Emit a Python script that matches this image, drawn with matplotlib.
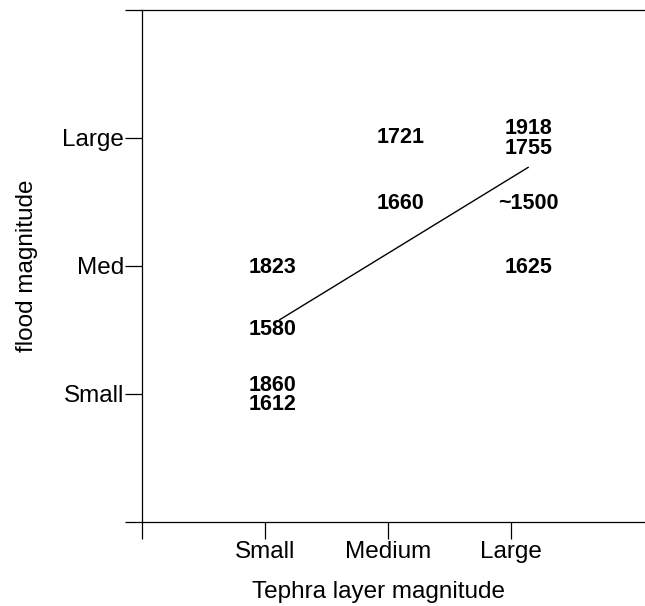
import numpy as np
import matplotlib
matplotlib.use("Agg")
from matplotlib import pyplot as plt

plt.rcParams['font.family'] = ['Liberation Sans', 'DejaVu Sans']

# tephra categories (x) and flood categories (y)
x_labels = ["Small", "Medium", "Large"]
y_labels = ["Small", "Med", "Large"]

# event years placed in the tephra / flood grid
years = ["1918", "1755", "1721", "1660", "~1500", "1823", "1625", "1580", "1860", "1612"]
year_x = [3.14, 3.14, 2.10, 2.10, 3.14, 1.06, 3.14, 1.06, 1.06, 1.06]
year_y = [3.07, 2.92, 3.00, 2.49, 2.49, 1.99, 1.99, 1.50, 1.07, 0.92]

# trend line end points
trend_x = [1.12, 3.14]
trend_y = [1.58, 2.77]

fig = plt.figure(figsize=(6.45, 6.06), dpi=100)
ax = fig.add_axes([0.220, 0.1386, 0.780, 0.845])

ax.plot(trend_x, trend_y, color="black", linewidth=1.0)
for t, x, y in zip(years, year_x, year_y):
    ax.text(x, y, t, ha="center", va="center", fontsize=15.5, fontweight="bold")

ax.set_xlim(0, 4.09)
ax.set_ylim(0, 4)
ax.set_xticks([0, 1, 2, 3])
ax.set_xticklabels([""] + x_labels, fontsize=17.5)
ax.set_yticks([0, 1, 2, 3, 4])
ax.set_yticklabels([""] + y_labels + [""], fontsize=17.5)
ax.tick_params(length=12, width=0.9)
ax.tick_params(axis="x", pad=2)
ax.tick_params(axis="y", pad=1)

ax.spines["right"].set_visible(False)
for s in ["left", "bottom", "top"]:
    ax.spines[s].set_linewidth(0.9)

ax.set_xlabel("Tephra layer magnitude", fontsize=17.5)
ax.set_ylabel("flood magnitude", fontsize=17.5)
ax.xaxis.set_label_coords(0.471, -0.116)
ax.yaxis.set_label_coords(-0.206, 0.5)

fig.savefig("out.png", dpi=100)
